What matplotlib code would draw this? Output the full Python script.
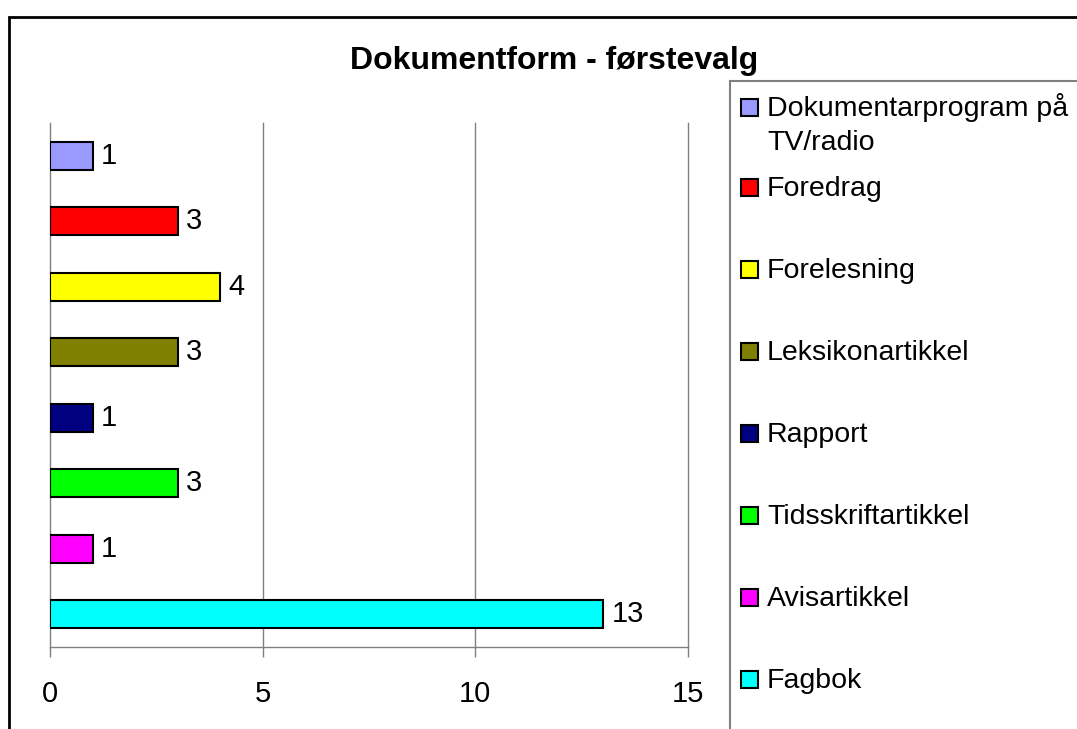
import matplotlib
matplotlib.use("Agg")
import matplotlib.pyplot as plt
from matplotlib.patches import Rectangle

# ---- data ----
categories = ["Dokumentarprogram på TV/radio", "Foredrag", "Forelesning",
              "Leksikonartikkel", "Rapport", "Tidsskriftartikkel",
              "Avisartikkel", "Fagbok"]
values = [1, 3, 4, 3, 1, 3, 1, 13]
colors = ["#9999FF", "#FF0000", "#FFFF00", "#808000",
          "#000080", "#00FF00", "#FF00FF", "#00FFFF"]
xticks = [0, 5, 10, 15]
title = "Dokumentform - førstevalg"

plt.rcParams['font.family'] = ['Liberation Sans', 'DejaVu Sans']

W, H = 1077, 729
fig = plt.figure(figsize=(W / 100, H / 100), dpi=100)


def fx(px):
    return px / W


def fy(py):
    return 1 - py / H


# outer chart border (extends beyond right/bottom edges)
fig.add_artist(Rectangle((fx(9), -0.1), 1.2, fy(17) + 0.1, transform=fig.transFigure,
                         fill=False, edgecolor='black', linewidth=2))

# title
fig.text(fx(554), fy(69), title, ha='center', va='baseline', fontsize=23,
         fontweight='bold')

# plot area
ax = fig.add_axes([fx(50), fy(647), fx(688) - fx(50), fy(123) - fy(647)])
n = len(categories)
ypos = list(range(n))
ax.barh(ypos, values, height=0.43, color=colors, edgecolor='black',
        linewidth=1.5, zorder=3)
ax.set_ylim(n - 0.5, -0.5)
ax.set_xlim(0, 15)
ax.set_xticks(xticks)
ax.set_xticklabels([str(t) for t in xticks], fontsize=21)
ax.tick_params(axis='x', length=7, width=1, color='#808080', pad=17)
ax.set_yticks([])
for s in ['top', 'right', 'left']:
    ax.spines[s].set_visible(False)
ax.spines['bottom'].set_color('#808080')
ax.spines['bottom'].set_linewidth(1)
ax.grid(axis='x', color='#808080', linewidth=1, zorder=0)
ax.set_axisbelow(True)
for line in ax.get_xgridlines():
    line.set_clip_on(False)

for i, v in enumerate(values):
    ax.annotate(str(v), (v, i), xytext=(6, 0), textcoords='offset points',
                va='center', ha='left', fontsize=21)

# legend box
fig.add_artist(Rectangle((fx(730), -0.1), 1, fy(81) + 0.1, transform=fig.transFigure,
                         fill=False, edgecolor='#808080', linewidth=1.5))

leg_labels = ["Dokumentarprogram på\nTV/radio"] + categories[1:]
for i, (lab, col) in enumerate(zip(leg_labels, colors)):
    if i == 0:
        mark_c = 107.5
    else:
        mark_c = 187.5 + (i - 1) * 82
    fig.add_artist(Rectangle((fx(741), fy(mark_c + 8.5)), 17 / W, 17 / H,
                             transform=fig.transFigure, facecolor=col,
                             edgecolor='black', linewidth=1.5))
    for k, part in enumerate(lab.split("\n")):
        fig.text(fx(767), fy(mark_c + 9 + 34 * k), part, ha='left',
                 va='baseline', fontsize=20.5)

fig.savefig("out.png", dpi=100)
